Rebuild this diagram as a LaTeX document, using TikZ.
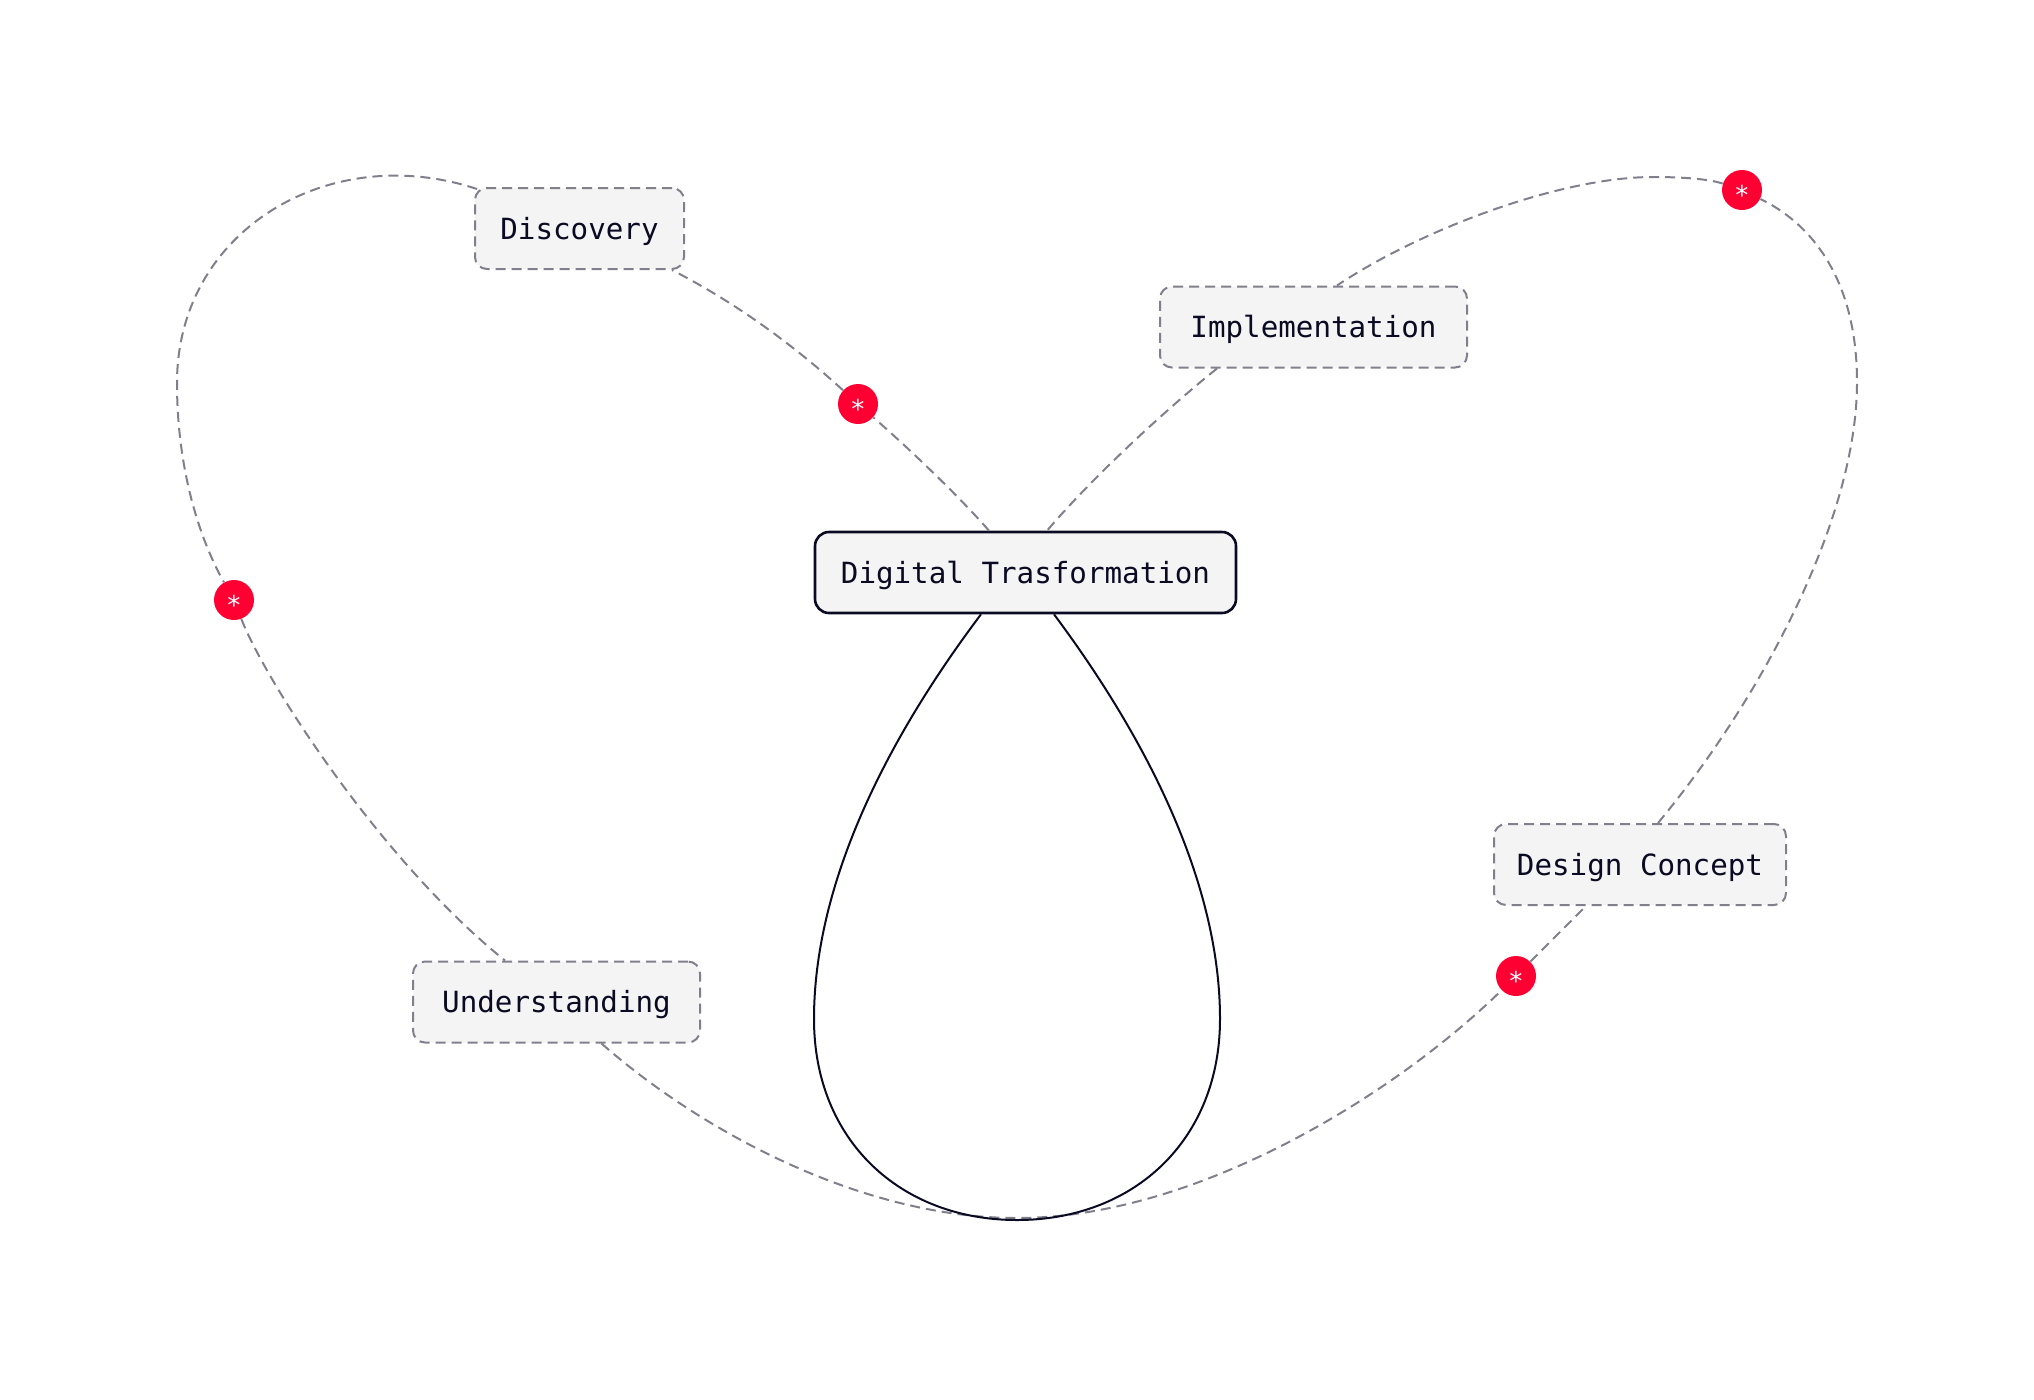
\documentclass[tikz,border=0pt]{standalone}
\usepackage{xcolor}
\usepackage{tikz}
\usepackage{fontspec}
\setmonofont{DejaVu Sans Mono}

\definecolor{linegray}{RGB}{128,128,140}
\definecolor{boxgray}{RGB}{244,244,244}
\definecolor{inknavy}{RGB}{10,10,35}
\definecolor{markred}{RGB}{255,0,51}

\begin{document}
\begin{tikzpicture}[x=0.5pt, y=-0.5pt,
            link/.style={draw=linegray, line width=1pt, dash pattern=on 5pt off 3pt},
            box/.style={draw=linegray, line width=1pt, dash pattern=on 5pt off 3pt, fill=boxgray,
                rounded corners=6pt, minimum height=40.5pt, inner xsep=10pt, text=inknavy,
                text height=10.5pt, text depth=0pt, font=\ttfamily\fontsize{14.6}{14.6}\selectfont},
            hub/.style={box, draw=inknavy, line width=1.3pt, solid, rounded corners=7pt},
            badge/.style={circle, fill=markred, minimum size=20pt, inner sep=0pt, text=white,
                text height=14.6pt, text depth=0pt, font=\ttfamily\fontsize{13}{13}\selectfont}]
            \useasboundingbox (0,0) rectangle (2034,1399);

            \node[hub, minimum width=210.5pt] (dt) at (1025.5,572.5) {Digital Trasformation};
            \node[box, minimum width=104.5pt] (disc) at (579.5,228.5) {Discovery};
            \node[box, minimum width=153.5pt] (impl) at (1313.5,327) {Implementation};
            \node[box, minimum width=146pt] (concept) at (1640,864.5) {Design Concept};
            \node[box, minimum width=143.5pt] (under) at (556.5,1002) {Understanding};

            \node[badge] (mark1) at (858,404) {*};
            \node[badge] (mark2) at (234,600) {*};
            \node[badge] (mark3) at (1516,976) {*};
            \node[badge] (mark4) at (1742,190) {*};

            % dashed ring
            \draw[link] ([xshift=-18.25pt]dt.north) .. controls (958,495) and (905,445) .. (mark1);
            \draw[link] (mark1) .. controls (810,360) and (750,310) .. ([xshift=46.25pt]disc.south);
            \draw[link] ([xshift=1.5pt,yshift=-1pt]disc.north west) .. controls (330,140) and (177,230) .. (177,383)
                .. controls (177,470) and (200,540) .. (mark2);
            \draw[link] (mark2) .. controls (265,680) and (380,860) .. ([xshift=-25.75pt]under.north);
            \draw[link] ([xshift=22.5pt]under.south) .. controls (700,1130) and (860,1218) .. (1017,1218)
                .. controls (1200,1218) and (1400,1090) .. (mark3);
            \draw[link] (mark3) -- ([xshift=-27pt]concept.south);
            \draw[link] ([xshift=9pt]concept.north) .. controls (1760,700) and (1857,520) .. (1857,382)
                .. controls (1857,290) and (1820,228) .. (mark4);
            \draw[link] (mark4) .. controls (1712,180) and (1690,177) .. (1653,177)
                .. controls (1560,177) and (1420,230) .. ([xshift=11.75pt]impl.north);
            \draw[link] ([xshift=-48.25pt]impl.south) .. controls (1165,410) and (1090,480) .. ([xshift=10.75pt]dt.north);

            % self loop
            \draw[inknavy, line width=1pt] ([xshift=-22.25pt]dt.south) .. controls (890,735) and (814,880) .. (814,1019)
                .. controls (814,1140) and (900,1220) .. (1017,1220)
                .. controls (1134,1220) and (1220,1140) .. (1220,1019)
                .. controls (1220,880) and (1144,735) .. ([xshift=14.25pt]dt.south);
\end{tikzpicture}
\end{document}
